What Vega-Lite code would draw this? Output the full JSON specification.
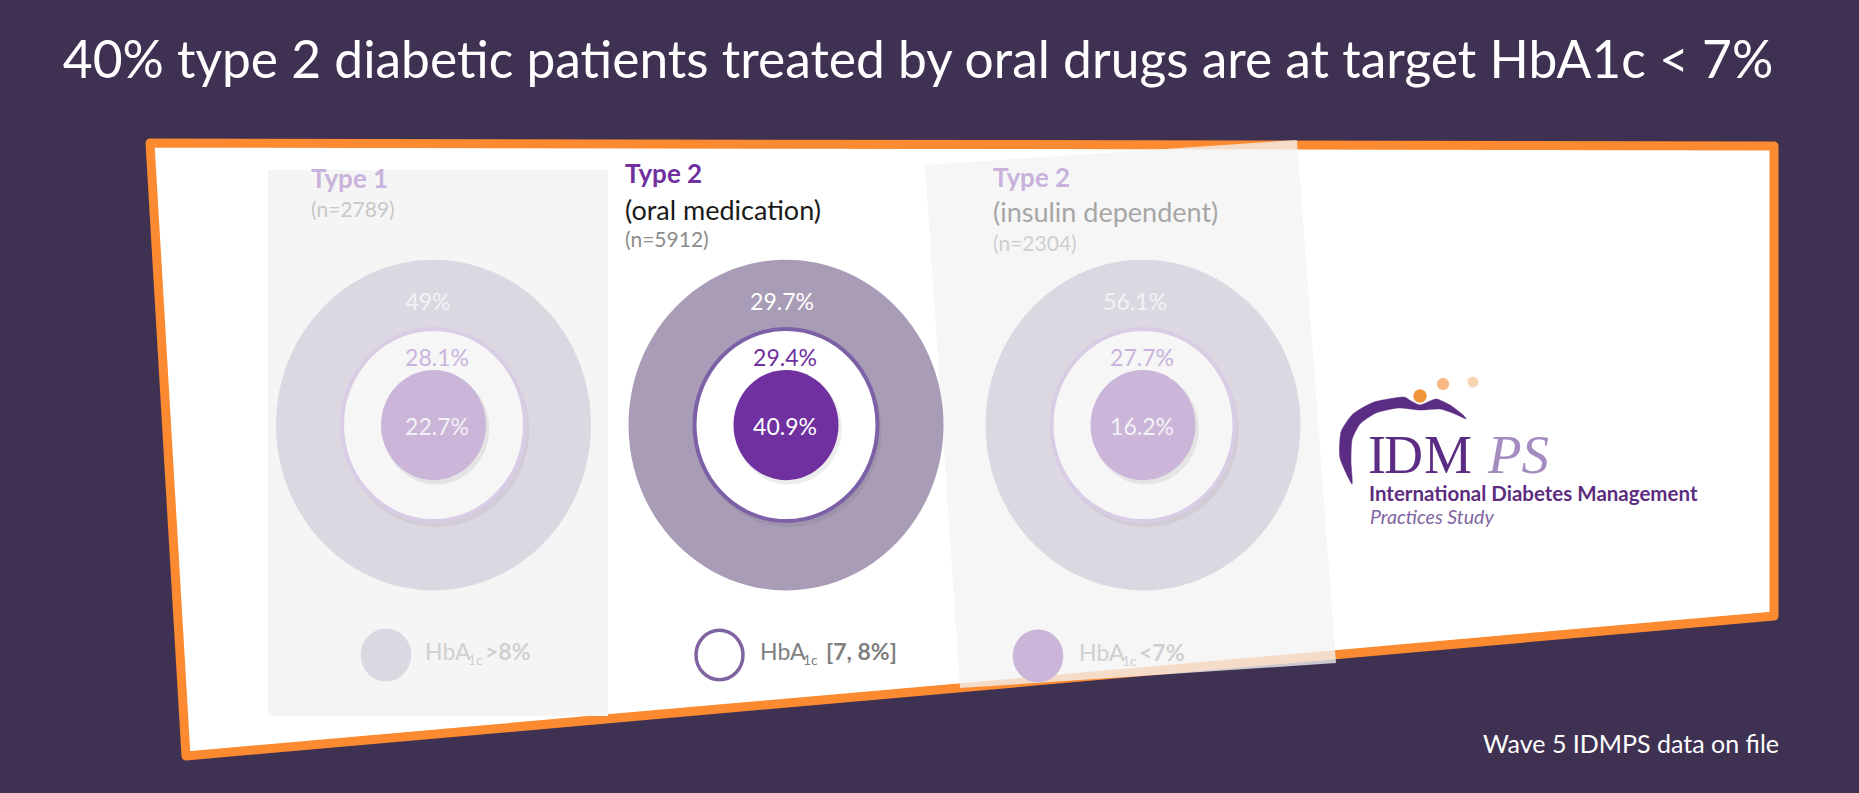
{
  "$schema": "https://vega.github.io/schema/vega-lite/v6.json",
  "width": 1859,
  "height": 793,
  "padding": 0,
  "autosize": {"type": "none"},
  "background": "#3f3152",
  "config": {
    "view": {"stroke": null},
    "axis": {"disable": true},
    "text": {"font": "Lato"}
  },
  "datasets": {
    "card": [
      {"i": 1, "x": 150, "y": 143},
      {"i": 2, "x": 1774, "y": 146},
      {"i": 3, "x": 1774, "y": 616},
      {"i": 4, "x": 186, "y": 756}
    ],
    "panel1": [{"x": 268, "y": 170, "x2": 608, "y2": 716}],
    "panel3": [
      {"i": 1, "x": 925, "y": 165},
      {"i": 2, "x": 1297, "y": 140},
      {"i": 3, "x": 1336, "y": 663},
      {"i": 4, "x": 960, "y": 688}
    ],
    "results": [
      {"panel": "Type 1", "band": ">8%", "pct": 0.49, "cx": 433.5, "cy": 425, "lx": 428, "ly": 303},
      {"panel": "Type 1", "band": "[7, 8%]", "pct": 0.281, "cx": 433.5, "cy": 425, "lx": 437, "ly": 359},
      {"panel": "Type 1", "band": "<7%", "pct": 0.227, "cx": 433.5, "cy": 425, "lx": 437, "ly": 428},
      {"panel": "Type 2 (oral medication)", "band": ">8%", "pct": 0.297, "cx": 786, "cy": 425, "lx": 782, "ly": 303},
      {"panel": "Type 2 (oral medication)", "band": "[7, 8%]", "pct": 0.294, "cx": 786, "cy": 425, "lx": 785, "ly": 359},
      {"panel": "Type 2 (oral medication)", "band": "<7%", "pct": 0.409, "cx": 786, "cy": 425, "lx": 785, "ly": 428},
      {"panel": "Type 2 (insulin dependent)", "band": ">8%", "pct": 0.561, "cx": 1143, "cy": 425, "lx": 1135, "ly": 303},
      {"panel": "Type 2 (insulin dependent)", "band": "[7, 8%]", "pct": 0.277, "cx": 1143, "cy": 425, "lx": 1142, "ly": 359},
      {"panel": "Type 2 (insulin dependent)", "band": "<7%", "pct": 0.162, "cx": 1143, "cy": 425, "lx": 1142, "ly": 428}
    ],
    "headers": [
      {"panel": "Type 1", "title": "Type 1", "sub": null, "n": "(n=2789)", "tx": 311, "ty": 188, "sy": null, "ny": 217},
      {"panel": "Type 2 (oral medication)", "title": "Type 2", "sub": "(oral medication)", "n": "(n=5912)", "tx": 625, "ty": 183, "sy": 220, "ny": 247},
      {"panel": "Type 2 (insulin dependent)", "title": "Type 2", "sub": "(insulin dependent)", "n": "(n=2304)", "tx": 993, "ty": 187, "sy": 222, "ny": 251}
    ],
    "legend": [
      {"band": ">8%", "cx": 386, "cy": 655, "hx": 425, "sx": 468, "fx": 485, "suffix": ">8%"},
      {"band": "[7, 8%]", "cx": 719.5, "cy": 655, "hx": 760, "sx": 803, "fx": 826, "suffix": "[7, 8%]"},
      {"band": "<7%", "cx": 1038, "cy": 656, "hx": 1079, "sx": 1122, "fx": 1139, "suffix": "<7%"}
    ],
    "swoosh": [
      {"i": 1, "x": 1352, "y": 484},
      {"i": 2, "x": 1340, "y": 458},
      {"i": 3, "x": 1341, "y": 432},
      {"i": 4, "x": 1353, "y": 414},
      {"i": 5, "x": 1374, "y": 402},
      {"i": 6, "x": 1403, "y": 397},
      {"i": 7, "x": 1411, "y": 401},
      {"i": 8, "x": 1420, "y": 405},
      {"i": 9, "x": 1430, "y": 401},
      {"i": 10, "x": 1437, "y": 399},
      {"i": 11, "x": 1450, "y": 405},
      {"i": 12, "x": 1462, "y": 414},
      {"i": 13, "x": 1466, "y": 419},
      {"i": 14, "x": 1455, "y": 414},
      {"i": 15, "x": 1440, "y": 409},
      {"i": 16, "x": 1420, "y": 410},
      {"i": 17, "x": 1398, "y": 408},
      {"i": 18, "x": 1376, "y": 413},
      {"i": 19, "x": 1360, "y": 424},
      {"i": 20, "x": 1352, "y": 440},
      {"i": 21, "x": 1351, "y": 462}
    ],
    "dots": [
      {"k": "a", "x": 1420, "y": 396},
      {"k": "b", "x": 1443, "y": 384},
      {"k": "c", "x": 1473, "y": 382}
    ],
    "logoLetters": [
      {"t": "I", "x": 1368, "y": 473},
      {"t": "D", "x": 1384, "y": 473},
      {"t": "M", "x": 1424, "y": 473}
    ],
    "texts": [
      {"role": "title", "text": "40% type 2 diabetic patients treated by oral drugs are at target HbA1c  < 7%", "x": 918, "y": 78},
      {"role": "note", "text": "Wave 5 IDMPS data on file", "x": 1779, "y": 753},
      {"role": "ps", "text": "PS", "x": 1488, "y": 473},
      {"role": "logo1", "text": "International Diabetes Management", "x": 1369, "y": 501},
      {"role": "logo2", "text": "Practices Study", "x": 1370, "y": 524}
    ]
  },
  "resolve": {"scale": {"fill": "independent", "stroke": "independent", "color": "independent", "size": "independent"}},
  "layer": [
    {
      "data": {"name": "card"},
      "mark": {"type": "line", "interpolate": "linear-closed", "fill": "#ffffff", "stroke": "#fb8a30", "strokeWidth": 9, "strokeJoin": "round"},
      "encoding": {
        "x": {"field": "x", "type": "quantitative", "scale": {"type": "linear", "domain": [0, 1859], "nice": false, "zero": false}, "axis": null},
        "y": {"field": "y", "type": "quantitative", "scale": {"type": "linear", "domain": [0, 793], "nice": false, "zero": false, "reverse": true}, "axis": null},
        "order": {"field": "i", "type": "quantitative"}
      }
    },
    {
      "data": {"name": "panel1"},
      "mark": {"type": "rect", "fill": "#f5f5f5"},
      "encoding": {
        "x": {"field": "x", "type": "quantitative", "scale": {"type": "linear", "domain": [0, 1859], "nice": false, "zero": false}, "axis": null},
        "x2": {"field": "x2"},
        "y": {"field": "y", "type": "quantitative", "scale": {"type": "linear", "domain": [0, 793], "nice": false, "zero": false, "reverse": true}, "axis": null},
        "y2": {"field": "y2"}
      }
    },
    {
      "data": {"name": "panel3"},
      "mark": {"type": "line", "interpolate": "linear-closed", "fill": "#f3f3f3", "fillOpacity": 0.78, "stroke": "transparent", "strokeWidth": 0},
      "encoding": {
        "x": {"field": "x", "type": "quantitative", "scale": {"type": "linear", "domain": [0, 1859], "nice": false, "zero": false}, "axis": null},
        "y": {"field": "y", "type": "quantitative", "scale": {"type": "linear", "domain": [0, 793], "nice": false, "zero": false, "reverse": true}, "axis": null},
        "order": {"field": "i", "type": "quantitative"}
      }
    },
    {
      "data": {"name": "results"},
      "transform": [{"filter": "datum.band === '>8%'"}],
      "mark": {"type": "point", "filled": true, "opacity": 1, "strokeWidth": 0, "size": 99225, "shape": "M1,0C1,0.58 0.552,1.05 0,1.05C-0.552,1.05 -1,0.58 -1,0C-1,-0.58 -0.552,-1.05 0,-1.05C0.552,-1.05 1,-0.58 1,0Z"},
      "encoding": {
        "x": {"field": "cx", "type": "quantitative", "scale": {"type": "linear", "domain": [0, 1859], "nice": false, "zero": false}, "axis": null},
        "y": {"field": "cy", "type": "quantitative", "scale": {"type": "linear", "domain": [0, 793], "nice": false, "zero": false, "reverse": true}, "axis": null},
        "fill": {"field": "panel", "type": "nominal", "scale": {"domain": ["Type 1", "Type 2 (oral medication)", "Type 2 (insulin dependent)"], "range": ["#dcd8e2", "#a99cb6", "#dcd8e2"]}, "legend": null}
      }
    },
    {
      "data": {"name": "results"},
      "transform": [{"filter": "datum.band === '[7, 8%]'"}],
      "mark": {"type": "point", "filled": true, "opacity": 0.05, "color": "#000000", "strokeWidth": 0, "size": 34500, "shape": "M1.03,0.05C1.03,0.63 0.582,1.1 0.03,1.1C-0.522,1.1 -0.97,0.63 -0.97,0.05C-0.97,-0.53 -0.522,-1 0.03,-1C0.582,-1 1.03,-0.53 1.03,0.05Z"},
      "encoding": {
        "x": {"field": "cx", "type": "quantitative", "scale": {"type": "linear", "domain": [0, 1859], "nice": false, "zero": false}, "axis": null},
        "y": {"field": "cy", "type": "quantitative", "scale": {"type": "linear", "domain": [0, 793], "nice": false, "zero": false, "reverse": true}, "axis": null}
      }
    },
    {
      "data": {"name": "results"},
      "transform": [{"filter": "datum.band === '[7, 8%]'"}],
      "mark": {"type": "point", "filled": true, "opacity": 1, "strokeWidth": 4, "size": 33489, "shape": "M1,0C1,0.58 0.552,1.05 0,1.05C-0.552,1.05 -1,0.58 -1,0C-1,-0.58 -0.552,-1.05 0,-1.05C0.552,-1.05 1,-0.58 1,0Z"},
      "encoding": {
        "x": {"field": "cx", "type": "quantitative", "scale": {"type": "linear", "domain": [0, 1859], "nice": false, "zero": false}, "axis": null},
        "y": {"field": "cy", "type": "quantitative", "scale": {"type": "linear", "domain": [0, 793], "nice": false, "zero": false, "reverse": true}, "axis": null},
        "fill": {"field": "panel", "type": "nominal", "scale": {"domain": ["Type 1", "Type 2 (oral medication)", "Type 2 (insulin dependent)"], "range": ["#f6f6f6", "#ffffff", "#f6f6f6"]}, "legend": null},
        "stroke": {"field": "panel", "type": "nominal", "scale": {"domain": ["Type 1", "Type 2 (oral medication)", "Type 2 (insulin dependent)"], "range": ["#d8cde4", "#7d60a6", "#d8cde4"]}, "legend": null}
      }
    },
    {
      "data": {"name": "results"},
      "transform": [{"filter": "datum.band === '<7%'"}],
      "mark": {"type": "point", "filled": true, "opacity": 0.07, "color": "#000000", "strokeWidth": 0, "size": 11300, "shape": "M1.05,0.07C1.05,0.65 0.602,1.12 0.05,1.12C-0.502,1.12 -0.95,0.65 -0.95,0.07C-0.95,-0.51 -0.502,-0.98 0.05,-0.98C0.602,-0.98 1.05,-0.51 1.05,0.07Z"},
      "encoding": {
        "x": {"field": "cx", "type": "quantitative", "scale": {"type": "linear", "domain": [0, 1859], "nice": false, "zero": false}, "axis": null},
        "y": {"field": "cy", "type": "quantitative", "scale": {"type": "linear", "domain": [0, 793], "nice": false, "zero": false, "reverse": true}, "axis": null}
      }
    },
    {
      "data": {"name": "results"},
      "transform": [{"filter": "datum.band === '<7%'"}],
      "mark": {"type": "point", "filled": true, "opacity": 1, "strokeWidth": 0, "size": 11025, "shape": "M1,0C1,0.58 0.552,1.05 0,1.05C-0.552,1.05 -1,0.58 -1,0C-1,-0.58 -0.552,-1.05 0,-1.05C0.552,-1.05 1,-0.58 1,0Z"},
      "encoding": {
        "x": {"field": "cx", "type": "quantitative", "scale": {"type": "linear", "domain": [0, 1859], "nice": false, "zero": false}, "axis": null},
        "y": {"field": "cy", "type": "quantitative", "scale": {"type": "linear", "domain": [0, 793], "nice": false, "zero": false, "reverse": true}, "axis": null},
        "fill": {"field": "panel", "type": "nominal", "scale": {"domain": ["Type 1", "Type 2 (oral medication)", "Type 2 (insulin dependent)"], "range": ["#cbb6d9", "#7030a0", "#cbb6d9"]}, "legend": null}
      }
    },
    {
      "data": {"name": "results"},
      "transform": [{"filter": "datum.band === '[7, 8%]'"}],
      "mark": {"type": "text", "fontSize": 23, "align": "center", "baseline": "middle"},
      "encoding": {
        "x": {"field": "lx", "type": "quantitative", "scale": {"type": "linear", "domain": [0, 1859], "nice": false, "zero": false}, "axis": null},
        "y": {"field": "ly", "type": "quantitative", "scale": {"type": "linear", "domain": [0, 793], "nice": false, "zero": false, "reverse": true}, "axis": null},
        "text": {"field": "pct", "type": "quantitative", "format": ".3~%"},
        "color": {"field": "panel", "type": "nominal", "scale": {"domain": ["Type 1", "Type 2 (oral medication)", "Type 2 (insulin dependent)"], "range": ["#c9b3dc", "#7030a0", "#c9b3dc"]}, "legend": null}
      }
    },
    {
      "data": {"name": "results"},
      "transform": [{"filter": "datum.band !== '[7, 8%]'"}],
      "mark": {"type": "text", "fontSize": 23, "align": "center", "baseline": "middle"},
      "encoding": {
        "x": {"field": "lx", "type": "quantitative", "scale": {"type": "linear", "domain": [0, 1859], "nice": false, "zero": false}, "axis": null},
        "y": {"field": "ly", "type": "quantitative", "scale": {"type": "linear", "domain": [0, 793], "nice": false, "zero": false, "reverse": true}, "axis": null},
        "text": {"field": "pct", "type": "quantitative", "format": ".3~%"},
        "color": {"field": "panel", "type": "nominal", "scale": {"domain": ["Type 1", "Type 2 (oral medication)", "Type 2 (insulin dependent)"], "range": ["#f3f2f6", "#ffffff", "#f3f2f6"]}, "legend": null}
      }
    },
    {
      "data": {"name": "headers"},
      "mark": {"type": "text", "fontSize": 26, "fontWeight": "bold", "align": "left", "baseline": "alphabetic"},
      "encoding": {
        "x": {"field": "tx", "type": "quantitative", "scale": {"type": "linear", "domain": [0, 1859], "nice": false, "zero": false}, "axis": null},
        "y": {"field": "ty", "type": "quantitative", "scale": {"type": "linear", "domain": [0, 793], "nice": false, "zero": false, "reverse": true}, "axis": null},
        "text": {"field": "title"},
        "color": {"field": "panel", "type": "nominal", "scale": {"domain": ["Type 1", "Type 2 (oral medication)", "Type 2 (insulin dependent)"], "range": ["#c9b3dc", "#7030a0", "#c9b3dc"]}, "legend": null}
      }
    },
    {
      "data": {"name": "headers"},
      "transform": [{"filter": "datum.sub != null"}],
      "mark": {"type": "text", "fontSize": 27, "align": "left", "baseline": "alphabetic"},
      "encoding": {
        "x": {"field": "tx", "type": "quantitative", "scale": {"type": "linear", "domain": [0, 1859], "nice": false, "zero": false}, "axis": null},
        "y": {"field": "sy", "type": "quantitative", "scale": {"type": "linear", "domain": [0, 793], "nice": false, "zero": false, "reverse": true}, "axis": null},
        "text": {"field": "sub"},
        "color": {"field": "panel", "type": "nominal", "scale": {"domain": ["Type 1", "Type 2 (oral medication)", "Type 2 (insulin dependent)"], "range": ["#a6a6a6", "#1a1a1a", "#a6a6a6"]}, "legend": null}
      }
    },
    {
      "data": {"name": "headers"},
      "mark": {"type": "text", "fontSize": 21, "align": "left", "baseline": "alphabetic"},
      "encoding": {
        "x": {"field": "tx", "type": "quantitative", "scale": {"type": "linear", "domain": [0, 1859], "nice": false, "zero": false}, "axis": null},
        "y": {"field": "ny", "type": "quantitative", "scale": {"type": "linear", "domain": [0, 793], "nice": false, "zero": false, "reverse": true}, "axis": null},
        "text": {"field": "n"},
        "color": {"field": "panel", "type": "nominal", "scale": {"domain": ["Type 1", "Type 2 (oral medication)", "Type 2 (insulin dependent)"], "range": ["#c8c8c8", "#8c8c8c", "#cfcfcf"]}, "legend": null}
      }
    },
    {
      "data": {"name": "legend"},
      "mark": {"type": "point", "filled": true, "opacity": 1, "strokeWidth": 3.5, "size": 2209, "shape": "M1,0C1,0.58 0.552,1.05 0,1.05C-0.552,1.05 -1,0.58 -1,0C-1,-0.58 -0.552,-1.05 0,-1.05C0.552,-1.05 1,-0.58 1,0Z"},
      "encoding": {
        "x": {"field": "cx", "type": "quantitative", "scale": {"type": "linear", "domain": [0, 1859], "nice": false, "zero": false}, "axis": null},
        "y": {"field": "cy", "type": "quantitative", "scale": {"type": "linear", "domain": [0, 793], "nice": false, "zero": false, "reverse": true}, "axis": null},
        "fill": {"field": "band", "type": "nominal", "scale": {"domain": [">8%", "[7, 8%]", "<7%"], "range": ["#dcd8e2", "#ffffff", "#cbb6d9"]}, "legend": null},
        "stroke": {"field": "band", "type": "nominal", "scale": {"domain": [">8%", "[7, 8%]", "<7%"], "range": ["#dcd8e2", "#8064a2", "#cbb6d9"]}, "legend": null}
      }
    },
    {
      "data": {"name": "legend"},
      "mark": {"type": "text", "fontSize": 23, "align": "left", "baseline": "alphabetic", "dy": 5, "text": "HbA"},
      "encoding": {
        "x": {"field": "hx", "type": "quantitative", "scale": {"type": "linear", "domain": [0, 1859], "nice": false, "zero": false}, "axis": null},
        "y": {"field": "cy", "type": "quantitative", "scale": {"type": "linear", "domain": [0, 793], "nice": false, "zero": false, "reverse": true}, "axis": null},
        "color": {"field": "band", "type": "nominal", "scale": {"domain": [">8%", "[7, 8%]", "<7%"], "range": ["#d0d0d0", "#7f7f7f", "#d0d0d0"]}, "legend": null}
      }
    },
    {
      "data": {"name": "legend"},
      "mark": {"type": "text", "fontSize": 14, "align": "left", "baseline": "alphabetic", "dy": 10, "text": "1c"},
      "encoding": {
        "x": {"field": "sx", "type": "quantitative", "scale": {"type": "linear", "domain": [0, 1859], "nice": false, "zero": false}, "axis": null},
        "y": {"field": "cy", "type": "quantitative", "scale": {"type": "linear", "domain": [0, 793], "nice": false, "zero": false, "reverse": true}, "axis": null},
        "color": {"field": "band", "type": "nominal", "scale": {"domain": [">8%", "[7, 8%]", "<7%"], "range": ["#d0d0d0", "#7f7f7f", "#d0d0d0"]}, "legend": null}
      }
    },
    {
      "data": {"name": "legend"},
      "mark": {"type": "text", "fontSize": 23, "fontWeight": "bold", "align": "left", "baseline": "alphabetic", "dy": 5},
      "encoding": {
        "x": {"field": "fx", "type": "quantitative", "scale": {"type": "linear", "domain": [0, 1859], "nice": false, "zero": false}, "axis": null},
        "y": {"field": "cy", "type": "quantitative", "scale": {"type": "linear", "domain": [0, 793], "nice": false, "zero": false, "reverse": true}, "axis": null},
        "text": {"field": "suffix"},
        "color": {"field": "band", "type": "nominal", "scale": {"domain": [">8%", "[7, 8%]", "<7%"], "range": ["#d0d0d0", "#7f7f7f", "#d0d0d0"]}, "legend": null}
      }
    },
    {
      "data": {"name": "swoosh"},
      "mark": {"type": "line", "interpolate": "cardinal-closed", "tension": 0.4, "fill": "#5b2c83", "stroke": "#5b2c83", "strokeWidth": 0.5},
      "encoding": {
        "x": {"field": "x", "type": "quantitative", "scale": {"type": "linear", "domain": [0, 1859], "nice": false, "zero": false}, "axis": null},
        "y": {"field": "y", "type": "quantitative", "scale": {"type": "linear", "domain": [0, 793], "nice": false, "zero": false, "reverse": true}, "axis": null},
        "order": {"field": "i", "type": "quantitative"}
      }
    },
    {
      "data": {"name": "dots"},
      "mark": {"type": "circle", "opacity": 1},
      "encoding": {
        "x": {"field": "x", "type": "quantitative", "scale": {"type": "linear", "domain": [0, 1859], "nice": false, "zero": false}, "axis": null},
        "y": {"field": "y", "type": "quantitative", "scale": {"type": "linear", "domain": [0, 793], "nice": false, "zero": false, "reverse": true}, "axis": null},
        "size": {"field": "k", "type": "nominal", "scale": {"domain": ["a", "b", "c"], "range": [180, 121, 81]}, "legend": null},
        "color": {"field": "k", "type": "nominal", "scale": {"domain": ["a", "b", "c"], "range": ["#ef9438", "#f6b886", "#f9d4b2"]}, "legend": null}
      }
    },
    {
      "data": {"name": "logoLetters"},
      "mark": {"type": "text", "font": "Liberation Serif", "fontSize": 54, "align": "left", "baseline": "alphabetic", "color": "#5b2c83"},
      "encoding": {
        "x": {"field": "x", "type": "quantitative", "scale": {"type": "linear", "domain": [0, 1859], "nice": false, "zero": false}, "axis": null},
        "y": {"field": "y", "type": "quantitative", "scale": {"type": "linear", "domain": [0, 793], "nice": false, "zero": false, "reverse": true}, "axis": null},
        "text": {"field": "t"}
      }
    },
    {
      "data": {"name": "texts"},
      "transform": [{"filter": "datum.role === 'ps'"}],
      "mark": {"type": "text", "font": "Liberation Serif", "fontStyle": "italic", "fontSize": 55, "align": "left", "baseline": "alphabetic", "color": "#a48cc0"},
      "encoding": {
        "x": {"field": "x", "type": "quantitative", "scale": {"type": "linear", "domain": [0, 1859], "nice": false, "zero": false}, "axis": null},
        "y": {"field": "y", "type": "quantitative", "scale": {"type": "linear", "domain": [0, 793], "nice": false, "zero": false, "reverse": true}, "axis": null},
        "text": {"field": "text"}
      }
    },
    {
      "data": {"name": "texts"},
      "transform": [{"filter": "datum.role === 'logo1'"}],
      "mark": {"type": "text", "fontSize": 20.5, "fontWeight": "bold", "align": "left", "baseline": "alphabetic", "color": "#5c2d7e"},
      "encoding": {
        "x": {"field": "x", "type": "quantitative", "scale": {"type": "linear", "domain": [0, 1859], "nice": false, "zero": false}, "axis": null},
        "y": {"field": "y", "type": "quantitative", "scale": {"type": "linear", "domain": [0, 793], "nice": false, "zero": false, "reverse": true}, "axis": null},
        "text": {"field": "text"}
      }
    },
    {
      "data": {"name": "texts"},
      "transform": [{"filter": "datum.role === 'logo2'"}],
      "mark": {"type": "text", "fontSize": 19.5, "fontStyle": "italic", "align": "left", "baseline": "alphabetic", "color": "#8064a2"},
      "encoding": {
        "x": {"field": "x", "type": "quantitative", "scale": {"type": "linear", "domain": [0, 1859], "nice": false, "zero": false}, "axis": null},
        "y": {"field": "y", "type": "quantitative", "scale": {"type": "linear", "domain": [0, 793], "nice": false, "zero": false, "reverse": true}, "axis": null},
        "text": {"field": "text"}
      }
    },
    {
      "data": {"name": "texts"},
      "transform": [{"filter": "datum.role === 'title'"}],
      "mark": {"type": "text", "fontSize": 51.5, "align": "center", "baseline": "alphabetic", "color": "#ffffff"},
      "encoding": {
        "x": {"field": "x", "type": "quantitative", "scale": {"type": "linear", "domain": [0, 1859], "nice": false, "zero": false}, "axis": null},
        "y": {"field": "y", "type": "quantitative", "scale": {"type": "linear", "domain": [0, 793], "nice": false, "zero": false, "reverse": true}, "axis": null},
        "text": {"field": "text"}
      }
    },
    {
      "data": {"name": "texts"},
      "transform": [{"filter": "datum.role === 'note'"}],
      "mark": {"type": "text", "fontSize": 25, "align": "right", "baseline": "alphabetic", "color": "#ffffff"},
      "encoding": {
        "x": {"field": "x", "type": "quantitative", "scale": {"type": "linear", "domain": [0, 1859], "nice": false, "zero": false}, "axis": null},
        "y": {"field": "y", "type": "quantitative", "scale": {"type": "linear", "domain": [0, 793], "nice": false, "zero": false, "reverse": true}, "axis": null},
        "text": {"field": "text"}
      }
    }
  ]
}
